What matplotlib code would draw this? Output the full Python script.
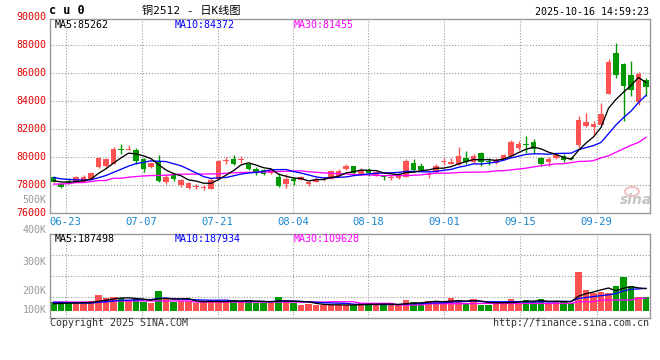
import numpy as np
import pandas as pd
import matplotlib
matplotlib.use("Agg")
import matplotlib.pyplot as plt
from matplotlib.patches import Ellipse

# ---------------- data ----------------
symbol = "c u 0"
title = "铜2512 - 日K线图"
timestamp = "2025-10-16 14:59:23"
date_labels = ["06-23", "07-07", "07-21", "08-04", "08-18", "09-01", "09-15", "09-29"]
price_ticks = [90000, 88000, 86000, 84000, 82000, 80000, 78000, 76000]
vol_tick_labels = ["500K", "400K", "300K", "200K", "100K"]
ma_labels = ["MA5:85262", "MA10:84372", "MA30:81455"]
vol_ma_labels = ["MA5:187498", "MA10:187934", "MA30:109628"]

opens = [78610, 78080, 78300, 78250, 78250, 78440, 79284, 79355, 79520, 80600,
         80500, 80480, 79880, 79280, 79640, 78200, 78730, 78040, 77820, 77890,
         77830, 77720, 78440, 79720, 79860, 79840, 79520, 79170, 79100, 78850,
         78610, 78080, 78420, 78370, 78060, 78250, 78400, 78420, 78660, 79160,
         79330, 78730, 78970, 78680, 78700, 78500, 78500, 78610, 79610, 79330,
         78750, 78970, 79670, 79540, 79450, 79930, 79620, 80330, 79700, 79550,
         79810, 80100, 80650, 80900, 81050, 79930, 79620, 79930, 80100, 79950,
         80890, 82250, 82160, 82320, 84550, 87430, 86640, 85850, 83950, 85490]
highs = [78680, 78100, 78500, 78680, 78730, 78925, 80000, 79950, 80690, 80940,
         80890, 80650, 79970, 79650, 80120, 78780, 78880, 78440, 78250, 78080,
         78000, 78540, 79810, 79980, 80120, 80080, 79600, 79300, 79150, 79250,
         78830, 78780, 78610, 78650, 78250, 78560, 78610, 79100, 79150, 79520,
         79400, 79210, 79250, 79000, 78730, 78700, 78850, 79880, 79880, 79570,
         78900, 79520, 79930, 79970, 80700, 80470, 80220, 80400, 79930, 79950,
         80250, 81200, 81150, 81530, 81300, 80040, 80000, 80290, 80220, 80040,
         82970, 83160, 82560, 83880, 87040, 88150, 86760, 86870, 86100, 85680]
lows = [78200, 77820, 78100, 78200, 78250, 78400, 79200, 79300, 79500, 80240,
        80500, 79500, 78950, 79250, 78250, 78080, 78310, 77890, 77730, 77720,
        77660, 77700, 78400, 79500, 79450, 79590, 79100, 78700, 78750, 78800,
        77890, 77820, 78010, 78350, 77940, 78230, 78300, 78400, 78640, 79100,
        78730, 78700, 78650, 78650, 78330, 78350, 78400, 78580, 78950, 79050,
        78500, 78880, 79450, 79500, 79420, 79500, 79550, 79330, 79450, 79500,
        79780, 80050, 80480, 80300, 80240, 79380, 79380, 79880, 79660, 79780,
        80650, 82160, 81530, 82300, 84500, 85680, 82560, 84360, 83700, 84400]
closes = [78250, 77890, 78230, 78565, 78610, 78850, 79930, 79880, 80600, 80480,
          80527, 79690, 79160, 79615, 78320, 78610, 78420, 78370, 78130, 77910,
          77850, 78370, 79690, 79740, 79520, 79870, 79160, 78880, 78790, 79100,
          77960, 78420, 78280, 78610, 78200, 78450, 78450, 79020, 79040, 79380,
          78880, 79050, 78900, 78970, 78560, 78540, 78740, 79690, 79090, 79090,
          78790, 79380, 79700, 79620, 80100, 79620, 80100, 79620, 79670, 79830,
          80120, 81050, 80960, 80860, 80580, 79520, 79860, 80170, 79780, 79920,
          82680, 82490, 82400, 83110, 86800, 85870, 85080, 84800, 85950, 85030]
# closes of the nine sessions before the first candle (for MA5 / MA10)
prior_closes = [78800, 78700, 78850, 78750, 78700, 78400, 78300, 78350, 78300]
# MA30 line
ma30 = [78070, 78080, 78100, 78180, 78180, 78250, 78320, 78330, 78490, 78490,
        78560, 78610, 78650, 78680, 78690, 78700, 78750, 78780, 78780, 78790,
        78790, 78800, 78800, 78850, 78870, 78900, 78910, 78920, 78930, 78950,
        78970, 78980, 79000, 79020, 78950, 78920, 78870, 78850, 78810, 78800,
        78760, 78730, 78730, 78690, 78680, 78680, 78680, 78690, 78700, 78730,
        78800, 78850, 78850, 78860, 78900, 78920, 78920, 78930, 78950, 79020,
        79030, 79090, 79150, 79210, 79300, 79380, 79450, 79520, 79530, 79600,
        79690, 79700, 79750, 79950, 80100, 80350, 80600, 80850, 81050, 81420]
# volume, thousands of lots
volumes = [79.5, 79.5, 64.8, 64.8, 64.8, 85.4, 138, 108.8, 117.6, 108.8,
           94.2, 108.8, 79.5, 70.7, 173.4, 108.8, 79.5, 85.4, 85.4, 70.7,
           79.5, 85.4, 85.4, 79.5, 94.2, 79.5, 94.2, 70.7, 70.7, 70.7,
           117.6, 94.2, 70.7, 50.2, 59, 50.2, 50.2, 50.2, 50.2, 50.2,
           50.2, 64.8, 64.8, 50.2, 59, 50.2, 50.2, 94.2, 79.5, 70.7,
           85.4, 85.4, 70.7, 111.8, 88.3, 70.7, 103, 50.2, 50.2, 73.6,
           76.6, 103, 70.7, 94.2, 79.5, 100, 70.7, 76.6, 76.6, 70.7,
           343.5, 182, 152.8, 167.5, 152.8, 217.4, 299.5, 217.4, 117.6, 117.6]
prior_volumes = [90, 85, 95, 80, 90, 60, 55, 60, 50]
vol_ma30 = [76, 76, 76, 76, 76, 76, 76, 76, 86, 86,
            86, 86, 86, 86, 86, 86, 86, 86, 86, 76,
            76, 76, 76, 76, 76, 76, 76, 76, 76, 76,
            76, 76, 76, 76, 76, 76, 76, 79, 79, 79,
            79, 65, 65, 65, 65, 65, 50, 50, 50, 50,
            62, 62, 62, 62, 62, 62, 62, 64, 64, 64,
            64, 64, 64, 64, 64, 64, 64, 64, 64, 64,
            79, 79, 79, 94, 94, 94, 94, 94, 109, 109]

# ---------------- derived ----------------
n = len(closes)
idx = np.arange(n)
all_c = pd.Series(prior_closes + closes, dtype=float)
ma5 = all_c.rolling(5).mean().to_numpy()[len(prior_closes):]
ma10 = all_c.rolling(10).mean().to_numpy()[len(prior_closes):]
all_v = pd.Series(prior_volumes + volumes, dtype=float)
vma5 = all_v.rolling(5).mean().to_numpy()[len(prior_volumes):]
vma10 = all_v.rolling(10).mean().to_numpy()[len(prior_volumes):]

O = np.array(opens, float); C = np.array(closes, float)
H = np.array(highs, float); L = np.array(lows, float)
up = C >= O
RED = "#ff5353"
GREEN = "#009a00"
colors = np.where(up, RED, GREEN)

# ---------------- layout ----------------
W, Hh = 660, 360
fig = plt.figure(figsize=(W / 100, Hh / 100), dpi=100)
fig.patch.set_facecolor("white")

def fx(x):
    return x / W

def fy(y):
    return 1 - y / Hh

MONO = "DejaVu Sans Mono"
FS = 7.2
GRID = dict(color="#9a9a9a", lw=0.8, linestyle=(0, (1, 1.6)))
FRAME = "#999999"
grid_idx = [1.63, 11.76, 21.89, 31.97, 41.97, 52.07, 62.2, 72.43]
xlo, xhi = -0.467, 79.533

# price panel: x 50..650, y 19..213
ax = fig.add_axes([fx(50), fy(213), fx(600), 194 / Hh])
ax.set_xlim(xlo, xhi)
ax.set_ylim(76000, 76000 + 194 * 71.6)
ax.set_xticks([]); ax.set_yticks([])
for s in ax.spines.values():
    s.set_color(FRAME); s.set_linewidth(1.0)
for p in price_ticks[1:-1]:
    ax.axhline(p, **GRID, zorder=0)
for g in grid_idx:
    ax.axvline(g, **GRID, zorder=0)

# candles
body_lo = np.minimum(O, C)
body_h = np.abs(C - O)
min_h = 75
body_lo = np.where(body_h < min_h, (O + C) / 2 - min_h / 2, body_lo)
body_h = np.maximum(body_h, min_h)
ax.vlines(idx, L, H, colors=colors, lw=1.0, zorder=2)
ax.bar(idx, body_h, bottom=body_lo, width=0.76, color=colors, linewidth=0, zorder=3)

ax.plot(idx, ma30, color="#ff00ff", lw=0.95, zorder=4)
ax.plot(idx, ma10, color="#0000ff", lw=0.95, zorder=5)
ax.plot(idx, ma5, color="#000000", lw=0.95, zorder=6)

ytr = ax.get_yaxis_transform()
for p in price_ticks:
    ax.text(-0.0067, p, f"{p}", transform=ytr, ha="right", va="center",
            color="#e00000", fontsize=FS, family=MONO, clip_on=False)

xtr = ax.get_xaxis_transform()
for g, lab in zip(grid_idx, date_labels):
    ax.text(g, -0.044, lab, transform=xtr, ha="center", va="center",
            color="#1a86d0", fontsize=7.6, family=MONO, clip_on=False)

# MA legend row
for xp, lab, col in zip([55, 175, 294], ma_labels, ["#000000", "#0000ff", "#ff00ff"]):
    fig.text(fx(xp), fy(24.5), lab, ha="left", va="center", color=col,
             fontsize=FS, family=MONO)

# watermark
fig.patches.append(Ellipse((fx(632), fy(191.5)), 14 / W, 9 / Hh, transform=fig.transFigure,
                           facecolor="none", edgecolor="#f0b8b8", lw=1.4, alpha=0.9))
fig.text(fx(636), fy(199.5), "sina", ha="center", va="center", color="#c4c4c4",
         fontsize=10, fontweight="bold", style="italic", family="DejaVu Sans")

# volume panel: x 50..650, y 234..318, zero at y 310.7
vax = fig.add_axes([fx(50), fy(318), fx(600), 84 / Hh])
vax.set_xlim(xlo, xhi)
k = 8.8
vax.set_ylim(-(318 - 310.7) * k, (310.7 - 234) * k)
vax.set_xticks([]); vax.set_yticks([])
for s in vax.spines.values():
    s.set_color(FRAME); s.set_linewidth(1.0)
for ypx in [255, 276, 297]:
    vax.axhline((310.7 - ypx) * k, **GRID, zorder=0)
for g in grid_idx:
    vax.axvline(g, **GRID, zorder=0)
vax.bar(idx, volumes, width=0.86, color=colors, linewidth=0, zorder=2)
vax.plot(idx, vol_ma30, color="#ff00ff", lw=0.95, zorder=4)
vax.plot(idx, vma10, color="#0000ff", lw=0.95, zorder=5)
vax.plot(idx, vma5, color="#000000", lw=0.95, zorder=6)

for ypx, lab in zip([200, 230.5, 262, 291, 310], vol_tick_labels):
    fig.text(fx(46.5), fy(ypx), lab, ha="right", va="center", color="#999999",
             fontsize=FS, family=MONO)
for xp, lab, col in zip([55, 175, 294], vol_ma_labels, ["#000000", "#0000ff", "#ff00ff"]):
    fig.text(fx(xp), fy(238.5), lab, ha="left", va="center", color=col,
             fontsize=FS, family=MONO)

# header / footer
fig.text(fx(49), fy(11), symbol, ha="left", va="center", fontsize=8.5,
         fontweight="bold", family=MONO, color="#000000")
fig.text(fx(142), fy(11), title, ha="left", va="center", fontsize=8,
         family=[MONO, "Noto Sans CJK SC"], color="#000000")
fig.text(fx(649), fy(12), timestamp, ha="right", va="center", fontsize=FS,
         family=MONO, color="#000000")
fig.text(fx(50), fy(323.5), "Copyright 2025 SINA.COM", ha="left", va="center",
         fontsize=FS, family=MONO, color="#333333")
fig.text(fx(649), fy(323.5), "http://finance.sina.com.cn", ha="right", va="center",
         fontsize=FS, family=MONO, color="#333333")

fig.savefig("out.png", dpi=100, facecolor="white")
